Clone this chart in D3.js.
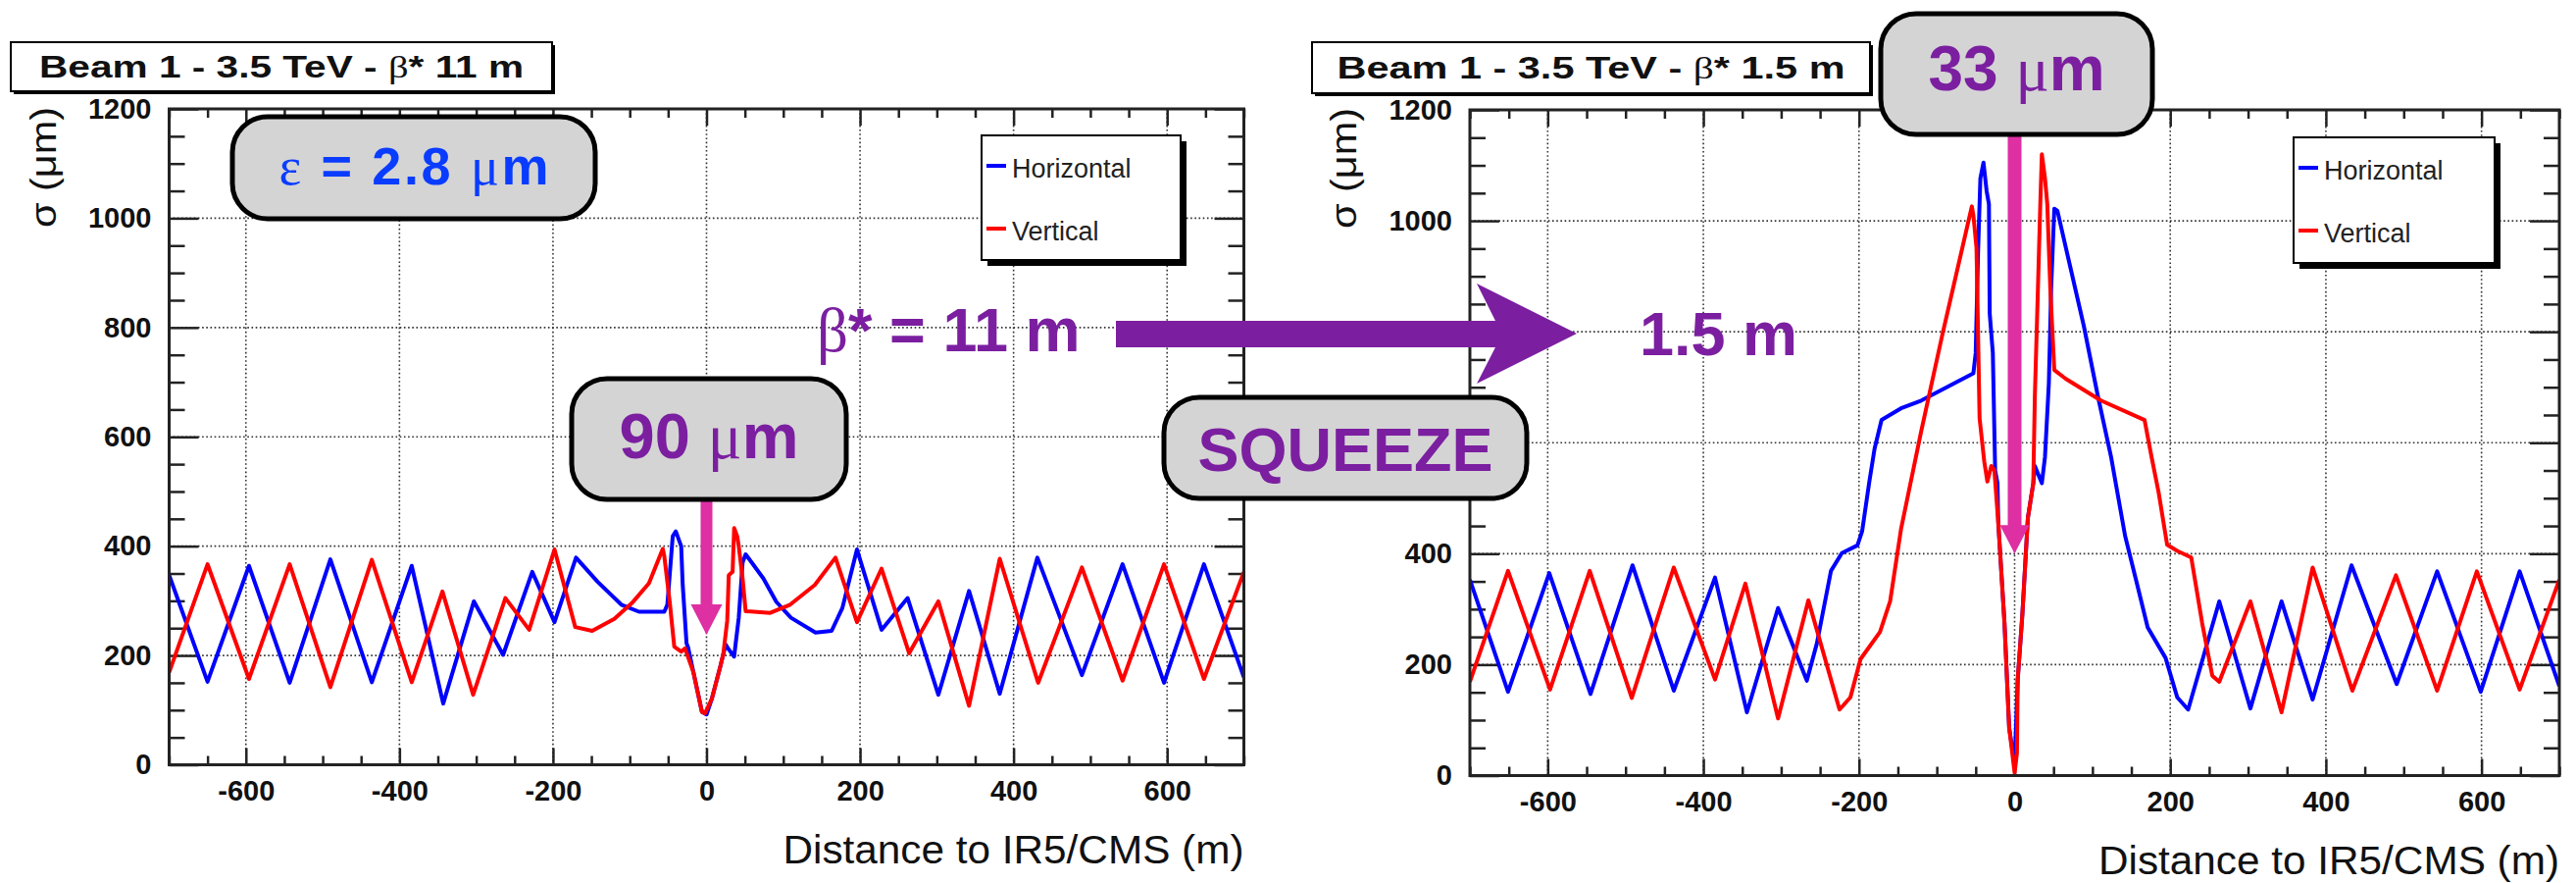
<!DOCTYPE html>
<html>
<head>
<meta charset="utf-8">
<script src="https://cdn.jsdelivr.net/npm/d3@7"></script>
<style>
  body { margin: 0; background: #fff; }
  svg { display: block; font-family: "Liberation Sans", Arial, sans-serif; }
</style>
</head>
<body>
<svg id="chart" width="2627" height="900"></svg>
<script>
// tick values and labels
const xTicks = [-600, -400, -200, 0, 200, 400, 600];
const yTicks = [0, 200, 400, 600, 800, 1000, 1200];
const seriesNames = ["Horizontal", "Vertical"];
const seriesColors = ["#0000ff", "#ff0000"];
const panelTitles = [["Beam 1 - 3.5 TeV - ", "β", "* 11 m"], ["Beam 1 - 3.5 TeV - ", "β", "* 1.5 m"]];

// beam size (um) vs distance to IR5 (m), beta* = 11 m
const hor11 = [[-700,347],[-650,152],[-596,364],[-543,150],[-490,376],[-436,151],[-384,364],[-343,112],
  [-303,299],[-265,201],[-227,353],[-198,261],[-170,379],[-142,335],[-111,293],[-88,280],[-55,280],[-51,293],
  [-44,418],[-40,427],[-33,400],[-31,329],[-26,222],[-24,215],[-17,169],[-6,97],[0,92],[7,121],[18,180],
  [25,220],[28,213],[36,198],[38,222],
  [42,269],[47,370],[51,385],[74,341],[91,298],[110,269],[142,242],[163,245],[177,287],[196,394],[228,247],
  [262,305],[302,128],[342,318],[382,130],[431,379],[489,164],[542,367],[596,150],[648,367],[700,160]];
const ver11 = [[-700,169],[-650,367],[-596,157],[-543,367],[-490,142],[-436,375],[-384,151],[-344,317],
  [-304,128],[-262,305],[-231,247],[-198,394],[-171,252],[-149,245],[-120,267],[-97,296],[-75,332],[-57,395],
  [-55,382],[-48,299],[-42,216],[-33,207],[-28,213],[-17,169],[-6,97],[-2,94],[7,121],[18,180],[22,204],
  [27,264],[29,347],[34,353],[36,433],[40,418],[42,400],[47,341],[51,281],[83,278],[109,293],[141,329],
  [168,379],[196,261],[228,359],[264,204],[302,299],[342,108],[382,377],[432,150],[489,361],[542,154],
  [596,367],[648,157],[700,353]];

// beam size (um) vs distance to IR5 (m), beta* = 1.5 m
const hor15 = [[-700,353],[-651,151],[-598,365],[-545,147],[-491,379],[-438,153],[-385,357],[-344,114],
  [-304,302],[-267,171],[-254,239],[-236,369],[-222,401],[-202,415],[-196,440],[-187,527],[-180,589],
  [-171,641],[-146,662],[-120,676],[-53,725],[-50,762],[-47,943],[-44,1077],[-40,1105],[-36,1054],[-33,1030],
  [-32,833],[-28,762],[-25,550],[-22,527],[-21,456],[-13,275],[-7,86],[0,20],[4,173],[10,291],[17,464],
  [24,527],[26,558],[35,527],[39,574],[44,707],[47,880],[51,1022],
  [55,1018],[71,920],[89,810],[107,684],[124,574],[142,432],[156,353],[171,267],[194,212],[209,141],
  [223,119],[263,314],[303,121],[343,314],[383,137],[433,379],[491,165],[543,368],[599,151],[649,368],[700,161]];
const ver15 = [[-700,169],[-651,369],[-597,155],[-546,369],[-492,140],[-438,375],[-385,173],[-346,346],
  [-304,103],[-265,316],[-225,119],[-211,141],[-198,210],[-173,259],[-160,314],[-146,444],[-120,621],
  [-93,794],[-71,928],[-55,1026],[-53,1010],[-49,951],[-45,644],[-39,566],[-35,530],[-30,558],[-26,550],
  [-21,456],[-13,275],[-7,86],[-3,40],[0,5],[3,40],[4,173],[10,291],[17,464],[24,527],[26,684],[30,880],
  [33,1030],[35,1120],[39,1077],[42,1030],[46,873],[51,731],[66,715],[111,676],[167,641],[176,574],
  [185,511],[196,416],[209,405],[227,393],[241,275],[254,180],[263,169],[303,314],[343,114],[383,375],
  [434,153],[490,361],[543,153],[594,368],[649,155],[700,353]];

const svg = d3.select("#chart");

// the right panel's "600" label sits under the SQUEEZE box in the original
var panels = [
  { left: 172.5, right: 1268.5, top: 111, bottom: 779.5, title: panelTitles[0], titleLen: 494,
    tbox: [11, 43, 552, 50], legend: [1001, 138, 203, 127], series: [hor11, ver11], hidden: [] },
  { left: 1499, right: 2610, top: 112, bottom: 790.5, title: panelTitles[1], titleLen: 518,
    tbox: [1338, 43, 569, 52], legend: [2339, 140, 205, 128], series: [hor15, ver15], hidden: [600] }
];

const minorX = d3.range(-700, 701, 50).filter(d => !xTicks.includes(d));
const minorY = d3.range(0, 1201, 50).filter(d => !yTicks.includes(d));

function styleAxis(g) {
  g.select(".domain").remove();
  g.selectAll(".tick line").attr("stroke", "#222").attr("stroke-width", 2.5);
  g.selectAll(".tick text").attr("fill", "#111")
    .style("font-family", "'Liberation Sans', Arial, sans-serif")
    .style("font-weight", "bold").style("font-size", "29px");
}

panels.forEach(function(p, i) {
  const x = d3.scaleLinear().domain([-700, 700]).range([p.left, p.right]);
  const y = d3.scaleLinear().domain([0, 1200]).range([p.bottom, p.top]);
  p.x = x; p.y = y;
  const g = svg.append("g");

  // grid
  g.append("g").selectAll("line").data(xTicks).join("line")
    .attr("x1", d => x(d)).attr("x2", d => x(d))
    .attr("y1", p.top).attr("y2", p.bottom)
    .attr("stroke", "#333").attr("stroke-width", 1.6).attr("stroke-dasharray", "1.6,2.6");
  g.append("g").selectAll("line").data(yTicks.slice(1, -1)).join("line")
    .attr("x1", p.left).attr("x2", p.right)
    .attr("y1", d => y(d)).attr("y2", d => y(d))
    .attr("stroke", "#333").attr("stroke-width", 1.6).attr("stroke-dasharray", "1.6,2.6");

  // axes (ticks drawn inside the frame, ROOT style)
  g.append("g").attr("transform", `translate(0,${p.bottom})`)
    .call(d3.axisBottom(x).tickValues(xTicks).tickSize(-17).tickPadding(16).tickFormat(d => String(d)))
    .call(styleAxis);
  g.append("g").attr("transform", `translate(0,${p.bottom})`)
    .call(d3.axisBottom(x).tickValues(minorX).tickSize(-9).tickFormat(""))
    .call(styleAxis);
  g.append("g").attr("transform", `translate(0,${p.top})`)
    .call(d3.axisTop(x).tickValues(xTicks).tickSize(-17).tickFormat(""))
    .call(styleAxis);
  g.append("g").attr("transform", `translate(0,${p.top})`)
    .call(d3.axisTop(x).tickValues(minorX).tickSize(-9).tickFormat(""))
    .call(styleAxis);
  g.append("g").attr("transform", `translate(${p.left},0)`)
    .call(d3.axisLeft(y).tickValues(yTicks).tickSize(-30).tickPadding(18)
      .tickFormat(d => p.hidden.includes(d) ? "" : String(d)))
    .call(styleAxis);
  g.append("g").attr("transform", `translate(${p.left},0)`)
    .call(d3.axisLeft(y).tickValues(minorY).tickSize(-16).tickFormat(""))
    .call(styleAxis);
  g.append("g").attr("transform", `translate(${p.right},0)`)
    .call(d3.axisRight(y).tickValues(yTicks).tickSize(-30).tickFormat(""))
    .call(styleAxis);
  g.append("g").attr("transform", `translate(${p.right},0)`)
    .call(d3.axisRight(y).tickValues(minorY).tickSize(-16).tickFormat(""))
    .call(styleAxis);

  // curves
  const clipId = "clip" + i;
  g.append("clipPath").attr("id", clipId).append("rect")
    .attr("x", p.left).attr("y", p.top)
    .attr("width", p.right - p.left).attr("height", p.bottom - p.top);
  const line = d3.line().x(d => x(d[0])).y(d => y(d[1]));
  g.append("g").attr("clip-path", `url(#${clipId})`)
    .selectAll("path").data(p.series).join("path")
    .attr("d", line)
    .attr("fill", "none")
    .attr("stroke", (d, k) => seriesColors[k])
    .attr("stroke-width", 4)
    .attr("stroke-linejoin", "round");

  // frame
  g.append("rect")
    .attr("x", p.left).attr("y", p.top)
    .attr("width", p.right - p.left).attr("height", p.bottom - p.top)
    .attr("fill", "none").attr("stroke", "#222").attr("stroke-width", 3);

  // axis titles
  g.append("text")
    .attr("x", p.right - 470).attr("y", p.bottom + 100)
    .attr("textLength", 470).attr("lengthAdjust", "spacingAndGlyphs")
    .style("font-size", "40px").attr("fill", "#111")
    .text("Distance to IR5/CMS (m)");
  g.append("text")
    .attr("transform", `translate(${p.left - 116},${p.top - 2}) rotate(-90)`)
    .attr("x", -123)
    .attr("textLength", 123).attr("lengthAdjust", "spacingAndGlyphs")
    .style("font-size", "36px").attr("fill", "#111")
    .text("σ (μm)");

  // legend
  const [lx, ly, lw, lh] = p.legend;
  g.append("rect").attr("x", lx + 6).attr("y", ly + 6).attr("width", lw).attr("height", lh).attr("fill", "#000");
  g.append("rect").attr("x", lx).attr("y", ly).attr("width", lw).attr("height", lh)
    .attr("fill", "#fff").attr("stroke", "#000").attr("stroke-width", 2);
  const items = g.append("g").selectAll("g").data(seriesNames).join("g")
    .attr("transform", (d, k) => `translate(${lx},${ly + 31 + k * 64})`);
  items.append("line").attr("x1", 5).attr("x2", 25).attr("y1", 0).attr("y2", 0)
    .attr("stroke", (d, k) => seriesColors[k]).attr("stroke-width", 4);
  items.append("text").attr("x", 31).attr("y", 12)
    .style("font-size", "27px").attr("fill", "#222")
    .text(d => d);

  // title box
  const [tx, ty, tw, th] = p.tbox;
  g.append("rect").attr("x", tx + 3).attr("y", ty + 3).attr("width", tw).attr("height", th).attr("fill", "#000");
  g.append("rect").attr("x", tx).attr("y", ty).attr("width", tw).attr("height", th)
    .attr("fill", "#fff").attr("stroke", "#000").attr("stroke-width", 2);
  const tt = g.append("text")
    .attr("x", tx + (tw - p.titleLen) / 2).attr("y", ty + th / 2 + 11)
    .attr("textLength", p.titleLen).attr("lengthAdjust", "spacingAndGlyphs")
    .attr("fill", "#111")
    .style("font-size", "31px").style("font-weight", "bold");
  p.title.forEach(function(s, k) {
    const ts = tt.append("tspan").text(s);
    if (k === 1) ts.style("font-family", "'Liberation Serif', serif").style("font-weight", "normal");
  });
});

// ---- annotations ----
const purple = "#7b1fa0";
const magenta = "#de2fa3";

// big squeeze arrow
svg.append("polygon")
  .attr("points", [[1138, 327], [1525, 327], [1506, 289], [1608, 340], [1506, 391], [1525, 354], [1138, 354]].join(" "))
  .attr("fill", purple);

// magenta arrows pointing at the IP (x = 0)
const pointers = [
  { panel: 0, from: 509, to: 238, shaft: 12, head: 32, headLen: 31 },
  { panel: 1, from: 137, to: 400, shaft: 14, head: 30, headLen: 29 }
];
pointers.forEach(function(a) {
  const p = panels[a.panel];
  const cx = p.x(0), ty = p.y(a.to);
  svg.append("rect").attr("x", cx - a.shaft / 2).attr("y", a.from)
    .attr("width", a.shaft).attr("height", ty - a.headLen - a.from + 1).attr("fill", magenta);
  svg.append("polygon")
    .attr("points", [[cx - a.head / 2, ty - a.headLen], [cx + a.head / 2, ty - a.headLen], [cx, ty]].join(" "))
    .attr("fill", magenta);
});

// rounded callout boxes
const callouts = [
  { x: 237, y: 119, w: 370, h: 104, color: "#0a3cff", size: 54, base: 188, len: 275,
    parts: [["ε", 1], [" = 2.8 ", 0], ["μ", 1], ["m", 0]] },
  { x: 583, y: 386, w: 280, h: 123, color: purple, size: 65, base: 467,
    parts: [["90 ", 0], ["μ", 1], ["m", 0]] },
  { x: 1918, y: 14, w: 277, h: 123, color: purple, size: 64, base: 92,
    parts: [["33 ", 0], ["μ", 1], ["m", 0]] },
  { x: 1187, y: 405, w: 370, h: 103, color: purple, size: 63, base: 480,
    parts: [["SQUEEZE", 0]] }
];
callouts.forEach(function(c) {
  svg.append("rect").attr("x", c.x).attr("y", c.y).attr("width", c.w).attr("height", c.h)
    .attr("rx", 36).attr("ry", 36)
    .attr("fill", "#d4d4d4").attr("stroke", "#000").attr("stroke-width", 5);
  const t = svg.append("text").attr("x", c.x + c.w / 2).attr("y", c.base)
    .attr("text-anchor", "middle").attr("fill", c.color)
    .style("font-size", c.size + "px").style("font-weight", "bold")
    .attr("xml:space", "preserve");
  if (c.len) {
    t.attr("x", c.x + (c.w - c.len) / 2).attr("text-anchor", "start")
      .attr("textLength", c.len).attr("lengthAdjust", "spacing");
  }
  c.parts.forEach(function(s) {
    const ts = t.append("tspan").text(s[0]);
    if (s[1]) ts.style("font-family", "'Liberation Serif', serif").style("font-weight", "normal");
  });
});

// beta* labels
const betaLabels = [
  { x: 833, y: 358, parts: [["β", 1], ["* = 11 m", 0]] },
  { x: 1672, y: 362, parts: [["1.5 m", 0]] }
];
betaLabels.forEach(function(b) {
  const t = svg.append("text").attr("x", b.x).attr("y", b.y)
    .attr("fill", purple).style("font-size", "63px").style("font-weight", "bold");
  b.parts.forEach(function(s) {
    const ts = t.append("tspan").text(s[0]);
    if (s[1]) ts.style("font-family", "'Liberation Serif', serif").style("font-weight", "normal");
  });
});
</script>
</body>
</html>
